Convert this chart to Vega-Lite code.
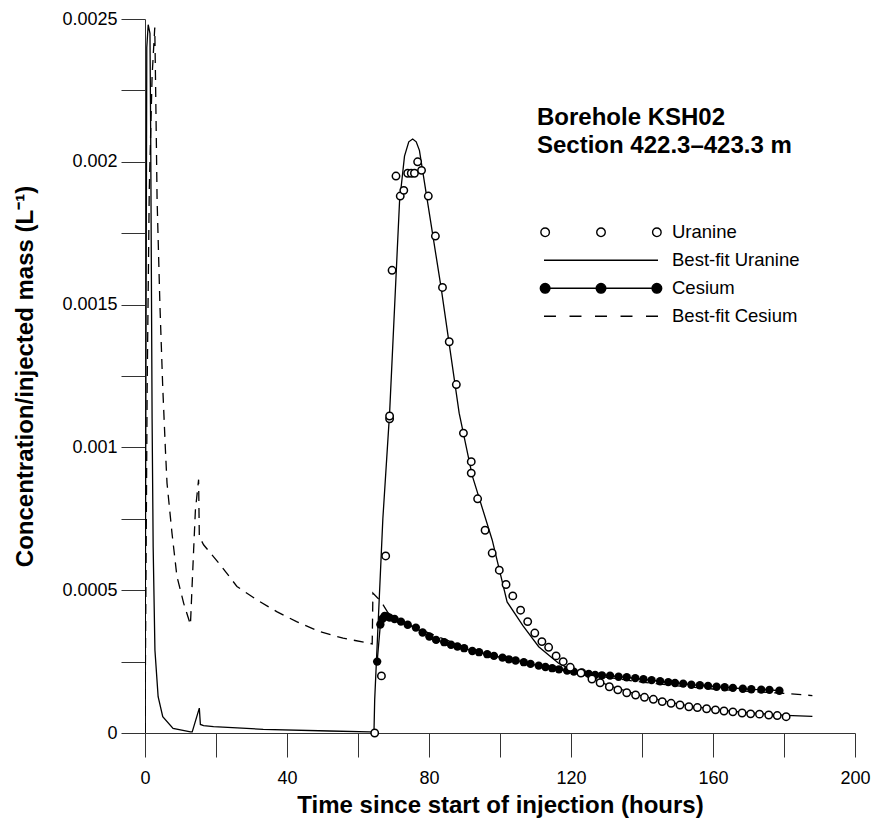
{
  "$schema": "https://vega.github.io/schema/vega-lite/v6.json",
  "width": 710,
  "height": 714,
  "autosize": "none",
  "padding": {"left": 145, "top": 19, "right": 16, "bottom": 85},
  "background": "white",
  "config": {
    "view": {"stroke": null},
    "font": "Liberation Sans",
    "axis": {"grid": false, "domainColor": "#333", "tickColor": "#333", "domainWidth": 1, "tickWidth": 1, "labelFont": "Liberation Sans", "labelFontSize": 18, "labelColor": "black", "titleFont": "Liberation Sans", "titleFontSize": 24, "titleFontWeight": "bold", "titleColor": "black"}
  },
  "datasets": {
    "uranine": [
      {"t": 64.7, "c": 0}, {"t": 66.6, "c": 0.0002}, {"t": 67.8, "c": 0.00062}, {"t": 68.9, "c": 0.0011}, {"t": 68.9, "c": 0.00111},
      {"t": 69.6, "c": 0.00162}, {"t": 70.7, "c": 0.00195}, {"t": 71.9, "c": 0.00188}, {"t": 72.9, "c": 0.0019}, {"t": 74.0, "c": 0.00196},
      {"t": 75.0, "c": 0.00196}, {"t": 75.9, "c": 0.00196}, {"t": 76.8, "c": 0.002}, {"t": 77.9, "c": 0.00197}, {"t": 79.8, "c": 0.00188},
      {"t": 81.8, "c": 0.00174}, {"t": 83.8, "c": 0.00156}, {"t": 85.7, "c": 0.00137}, {"t": 87.7, "c": 0.00122}, {"t": 89.7, "c": 0.00105},
      {"t": 91.9, "c": 0.00095}, {"t": 91.9, "c": 0.00091}, {"t": 93.7, "c": 0.00082}, {"t": 95.8, "c": 0.00071}, {"t": 97.8, "c": 0.00063},
      {"t": 99.8, "c": 0.00057}, {"t": 101.7, "c": 0.00052}, {"t": 103.6, "c": 0.00048}, {"t": 105.8, "c": 0.00043}, {"t": 107.8, "c": 0.00039},
      {"t": 109.8, "c": 0.00035}, {"t": 111.8, "c": 0.00032}, {"t": 113.7, "c": 0.0003}, {"t": 115.8, "c": 0.00027}, {"t": 117.8, "c": 0.00025},
      {"t": 119.8, "c": 0.00023}, {"t": 122.8, "c": 0.00021}, {"t": 125.9, "c": 0.000189}, {"t": 128.2, "c": 0.000176}, {"t": 130.8, "c": 0.000162},
      {"t": 133.2, "c": 0.000151}, {"t": 135.7, "c": 0.000141}, {"t": 138.2, "c": 0.000133}, {"t": 140.7, "c": 0.000125}, {"t": 143.2, "c": 0.000118},
      {"t": 145.7, "c": 0.00011}, {"t": 148.2, "c": 0.000104}, {"t": 150.7, "c": 0.000098}, {"t": 153.2, "c": 0.000092}, {"t": 155.6, "c": 0.000089},
      {"t": 158.2, "c": 0.000085}, {"t": 160.7, "c": 0.000081}, {"t": 163.1, "c": 0.000077}, {"t": 165.6, "c": 0.000074}, {"t": 168.2, "c": 0.00007},
      {"t": 170.6, "c": 0.000067}, {"t": 173.1, "c": 0.000066}, {"t": 175.7, "c": 0.000063}, {"t": 178.1, "c": 0.000061}, {"t": 180.6, "c": 0.000057}
    ],
    "cesium": [
      {"t": 65.4, "c": 0.00025}, {"t": 66.3, "c": 0.00038}, {"t": 66.9, "c": 0.0004}, {"t": 67.5, "c": 0.00041}, {"t": 68.2, "c": 0.000408},
      {"t": 68.9, "c": 0.000404}, {"t": 70.3, "c": 0.000399}, {"t": 72.1, "c": 0.00039}, {"t": 74.0, "c": 0.000379}, {"t": 76.3, "c": 0.000369},
      {"t": 78.2, "c": 0.000352}, {"t": 80.1, "c": 0.000338}, {"t": 82.0, "c": 0.000326}, {"t": 84.3, "c": 0.000318}, {"t": 86.2, "c": 0.000309},
      {"t": 88.0, "c": 0.000303}, {"t": 89.9, "c": 0.000297}, {"t": 92.2, "c": 0.000287}, {"t": 94.1, "c": 0.000283}, {"t": 96.4, "c": 0.000276},
      {"t": 98.3, "c": 0.00027}, {"t": 100.7, "c": 0.000264}, {"t": 102.5, "c": 0.000258}, {"t": 104.4, "c": 0.000254}, {"t": 106.7, "c": 0.000248},
      {"t": 108.6, "c": 0.000242}, {"t": 110.9, "c": 0.000236}, {"t": 112.8, "c": 0.000231}, {"t": 114.7, "c": 0.000227}, {"t": 116.6, "c": 0.000223},
      {"t": 118.9, "c": 0.000219}, {"t": 120.8, "c": 0.000215}, {"t": 123.1, "c": 0.000212}, {"t": 125.0, "c": 0.000207}, {"t": 126.8, "c": 0.000203},
      {"t": 128.7, "c": 0.000202}, {"t": 131.0, "c": 0.000201}, {"t": 133.4, "c": 0.000197}, {"t": 135.7, "c": 0.000195}, {"t": 138.1, "c": 0.000192},
      {"t": 140.4, "c": 0.000188}, {"t": 142.7, "c": 0.000185}, {"t": 145.1, "c": 0.000181}, {"t": 147.4, "c": 0.000178}, {"t": 149.3, "c": 0.000175},
      {"t": 151.6, "c": 0.000173}, {"t": 153.9, "c": 0.000169}, {"t": 156.3, "c": 0.000167}, {"t": 158.6, "c": 0.000165}, {"t": 161.0, "c": 0.000162},
      {"t": 163.3, "c": 0.00016}, {"t": 165.6, "c": 0.000158}, {"t": 168.4, "c": 0.000155}, {"t": 170.8, "c": 0.000153}, {"t": 173.6, "c": 0.000152},
      {"t": 175.9, "c": 0.000151}, {"t": 178.7, "c": 0.000148}
    ],
    "fitU": [
      {"t": 0, "c": 0}, {"t": 0.5, "c": 0.0024}, {"t": 0.9, "c": 0.00248}, {"t": 1.4, "c": 0.00245}, {"t": 1.6, "c": 0.0021},
      {"t": 1.8, "c": 0.0016}, {"t": 2.0, "c": 0.0011}, {"t": 2.3, "c": 0.00065}, {"t": 2.8, "c": 0.00029}, {"t": 3.7, "c": 0.000127},
      {"t": 5.0, "c": 0.000057}, {"t": 7.9, "c": 0.000016}, {"t": 12.8, "c": 0.000004}, {"t": 13.3, "c": 0.000004}, {"t": 15.3, "c": 0.000087},
      {"t": 15.6, "c": 0.00003}, {"t": 16.5, "c": 0.000026}, {"t": 19.3, "c": 0.000022}, {"t": 33.3, "c": 0.000013}, {"t": 52, "c": 0.000007},
      {"t": 63.2, "c": 0.000004}, {"t": 64.5, "c": 0.000003}, {"t": 64.7, "c": 0.000116}, {"t": 67.0, "c": 0.00075}, {"t": 68.9, "c": 0.00112},
      {"t": 71.7, "c": 0.00186}, {"t": 73.1, "c": 0.00202}, {"t": 74.3, "c": 0.00207}, {"t": 75.4, "c": 0.00208}, {"t": 76.4, "c": 0.00207},
      {"t": 77.3, "c": 0.00204}, {"t": 79.2, "c": 0.00189}, {"t": 83.4, "c": 0.00156}, {"t": 88.5, "c": 0.00112}, {"t": 92.2, "c": 0.0009},
      {"t": 97.8, "c": 0.000676}, {"t": 102.0, "c": 0.000459}, {"t": 106.5, "c": 0.000375}, {"t": 110.9, "c": 0.000302}, {"t": 116.5, "c": 0.000244},
      {"t": 120.0, "c": 0.000222}, {"t": 125.9, "c": 0.000192}, {"t": 130.8, "c": 0.000165}, {"t": 140.7, "c": 0.000127}, {"t": 150.7, "c": 0.0001},
      {"t": 160.7, "c": 0.000082}, {"t": 170.6, "c": 0.00007}, {"t": 180.6, "c": 0.000062}, {"t": 188.0, "c": 0.000058}
    ],
    "fitC": [
      {"t": 0, "c": 0}, {"t": 0.6, "c": 0.0012}, {"t": 1.2, "c": 0.0019}, {"t": 2.0, "c": 0.0023}, {"t": 2.75, "c": 0.00247},
      {"t": 2.95, "c": 0.0023}, {"t": 3.2, "c": 0.00207}, {"t": 3.4, "c": 0.00187}, {"t": 4.2, "c": 0.0015}, {"t": 5.0, "c": 0.00121},
      {"t": 5.75, "c": 0.000992}, {"t": 6.2, "c": 0.000875}, {"t": 7.6, "c": 0.0007}, {"t": 9.0, "c": 0.000548}, {"t": 10.9, "c": 0.000454},
      {"t": 12.8, "c": 0.000379}, {"t": 13.7, "c": 0.000641}, {"t": 14.2, "c": 0.000781}, {"t": 15.1, "c": 0.000887}, {"t": 15.3, "c": 0.000688},
      {"t": 16.5, "c": 0.000659}, {"t": 21.2, "c": 0.000589}, {"t": 25.9, "c": 0.000513}, {"t": 31.5, "c": 0.000466}, {"t": 37.1, "c": 0.000425},
      {"t": 42.7, "c": 0.00039}, {"t": 49.2, "c": 0.000355}, {"t": 55.8, "c": 0.000332}, {"t": 63.3, "c": 0.000314}, {"t": 64.0, "c": 0.000312},
      {"t": 64.2, "c": 0.00049}, {"t": 65.6, "c": 0.000472}, {"t": 67.0, "c": 0.00045}, {"t": 68.5, "c": 0.00042}, {"t": 70.0, "c": 0.0004},
      {"t": 75.0, "c": 0.000375}, {"t": 80.0, "c": 0.00035}, {"t": 85.0, "c": 0.000325}, {"t": 90.0, "c": 0.000302}, {"t": 95.0, "c": 0.000283},
      {"t": 100.0, "c": 0.000266}, {"t": 110.0, "c": 0.000238}, {"t": 120.0, "c": 0.000214}, {"t": 130.0, "c": 0.000195}, {"t": 140.0, "c": 0.000178},
      {"t": 150.0, "c": 0.000165}, {"t": 160.0, "c": 0.000154}, {"t": 170.0, "c": 0.000146}, {"t": 180.0, "c": 0.000139}, {"t": 188.0, "c": 0.000131}
    ],
    "legendItems": [
      {"series": "Uranine"}, {"series": "Best-fit Uranine"}, {"series": "Cesium"}, {"series": "Best-fit Cesium"}
    ]
  },
  "encoding": {
    "x": {
      "field": "t", "type": "quantitative",
      "scale": {"domain": [0, 200], "nice": false, "zero": false},
      "axis": {
        "title": "Time since start of injection (hours)",
        "values": [0, 20, 40, 60, 80, 100, 120, 140, 160, 180, 200],
        "tickSize": 24,
        "labelPadding": 12,
        "titlePadding": 6,
        "labelExpr": "datum.value % 40 === 0 ? datum.label : ''",
        "labelOverlap": false,
        "labelFlush": false,
        "encode": {"ticks": {"update": {"y2": {"signal": "datum.value % 40 === 0 ? 24 : 12"}}}}
      }
    },
    "y": {
      "field": "c", "type": "quantitative",
      "scale": {"domain": [0, 0.0025], "nice": false},
      "axis": {
        "title": "Concentration/injected mass (L⁻¹)",
        "values": [0, 0.00025, 0.0005, 0.00075, 0.001, 0.00125, 0.0015, 0.00175, 0.002, 0.00225, 0.0025],
        "format": "~g",
        "tickSize": 24,
        "labelPadding": 4,
        "titlePadding": 24,
        "labelExpr": "round(datum.value * 4000) % 2 === 0 ? datum.label : ''",
        "labelOverlap": false,
        "labelFlush": false,
        "encode": {"ticks": {"update": {"x2": {"signal": "round(datum.value * 4000) % 2 === 0 ? -24 : -12"}}}}
      }
    }
  },
  "layer": [
    {
      "data": {"name": "fitC"},
      "mark": {"type": "line", "color": "black", "strokeWidth": 1.3, "strokeDash": [10, 7], "clip": true, "interpolate": "linear"},
      "encoding": {"order": {"field": "t", "type": "quantitative"}}
    },
    {
      "data": {"name": "fitU"},
      "mark": {"type": "line", "color": "black", "strokeWidth": 1.3, "clip": true},
      "encoding": {"order": {"field": "t", "type": "quantitative"}}
    },
    {
      "data": {"name": "cesium"},
      "mark": {"type": "line", "color": "black", "strokeWidth": 1.3},
      "encoding": {"order": {"field": "t", "type": "quantitative"}}
    },
    {
      "data": {"name": "cesium"},
      "mark": {"type": "point", "shape": "circle", "filled": true, "color": "black", "size": 70, "opacity": 1}
    },
    {
      "data": {"name": "uranine"},
      "mark": {"type": "point", "shape": "circle", "filled": false, "fill": "white", "stroke": "black", "strokeWidth": 1.5, "size": 55, "opacity": 1}
    },
    {
      "data": {"name": "legendItems"},
      "mark": {"type": "point", "filled": true, "opacity": 0, "strokeWidth": 1.4},
      "encoding": {
        "shape": {
          "field": "series", "type": "nominal",
          "scale": {
            "domain": ["Uranine", "Best-fit Uranine", "Cesium", "Best-fit Cesium"],
            "range": [
              "M-1.055,0A0.075,0.075,0,1,0,-0.905,0A0.075,0.075,0,1,0,-1.055,0ZM-0.075,0A0.075,0.075,0,1,0,0.075,0A0.075,0.075,0,1,0,-0.075,0ZM0.905,0A0.075,0.075,0,1,0,1.055,0A0.075,0.075,0,1,0,0.905,0Z",
              "M-1,0L1,0",
              "M-1,0L1,0M-1.065,0A0.085,0.085,0,1,0,-0.895,0A0.085,0.085,0,1,0,-1.065,0ZM-0.085,0A0.085,0.085,0,1,0,0.085,0A0.085,0.085,0,1,0,-0.085,0ZM0.895,0A0.085,0.085,0,1,0,1.065,0A0.085,0.085,0,1,0,0.895,0Z",
              "M-1,0L-0.79,0M-0.5525,0L-0.3425,0M-0.105,0L0.105,0M0.3425,0L0.5525,0M0.79,0L1,0"
            ]
          },
          "legend": {
            "orient": "none",
            "legendX": 392,
            "legendY": 87,
            "padding": 0,
            "title": ["Borehole KSH02", "Section 422.3–423.3 m"],
            "titleFont": "Liberation Sans",
            "titleFontSize": 24,
            "titleFontWeight": "bold",
            "titleColor": "black",
            "titleLineHeight": 28.3,
            "titleLimit": 500,
            "titlePadding": 60,
            "titleAnchor": "start",
            "labelFont": "Liberation Sans",
            "labelFontSize": 18.5,
            "labelColor": "black",
            "labelLimit": 400,
            "labelOffset": 13,
            "symbolSize": 12996,
            "symbolOffset": 6,
            "symbolStrokeWidth": 1.4,
            "symbolStrokeColor": "black",
            "symbolOpacity": 1,
            "clipHeight": 28,
            "rowPadding": 0,
            "encode": {"symbols": {"update": {"strokeWidth": {"value": 1.4}, "opacity": {"value": 1}}}}
          }
        },
        "fill": {
          "field": "series", "type": "nominal",
          "scale": {
            "domain": ["Uranine", "Best-fit Uranine", "Cesium", "Best-fit Cesium"],
            "range": ["white", "transparent", "black", "transparent"]
          }
        },
        "stroke": {
          "field": "series", "type": "nominal",
          "scale": {
            "domain": ["Uranine", "Best-fit Uranine", "Cesium", "Best-fit Cesium"],
            "range": ["black", "black", "black", "black"]
          }
        }
      }
    }
  ]
}
